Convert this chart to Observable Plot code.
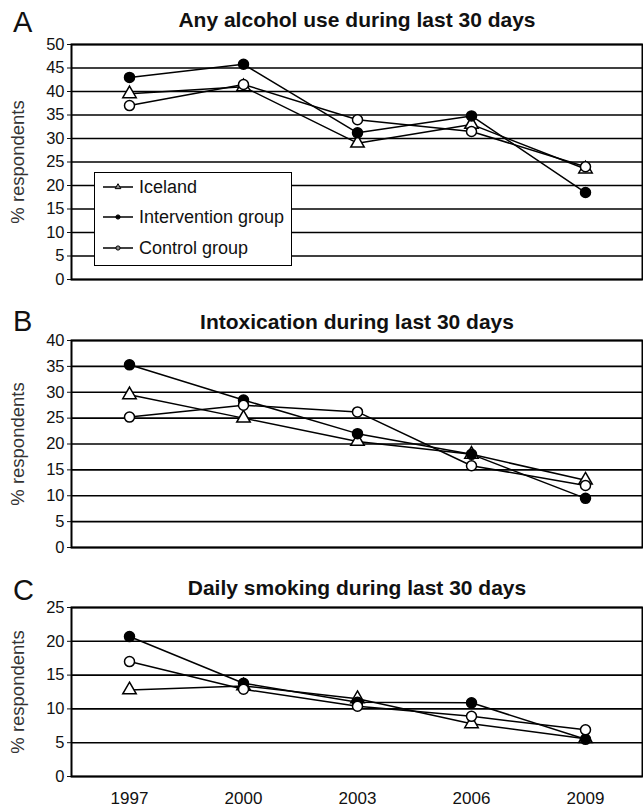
<!DOCTYPE html>
<html><head><meta charset="utf-8">
<script src="https://cdn.jsdelivr.net/npm/d3@7"></script>
<script src="https://cdn.jsdelivr.net/npm/@observablehq/plot@0.6"></script>
<style>
body{margin:0;background:#fff;font-family:"Liberation Sans",Arial,sans-serif;color:#111;}
#chart{position:relative;width:643px;height:810px;overflow:hidden;background:#fff;}
.letter{position:absolute;left:13px;font-size:29px;line-height:29px;}
.title{position:absolute;left:71px;width:572px;text-align:center;font-weight:bold;font-size:21px;line-height:24px;}
.panel{position:absolute;left:0;}
.legend{position:absolute;box-sizing:border-box;left:94px;top:172px;width:198px;height:94px;border:1.5px solid #000;background:#fff;font-size:18px;}
.legend .row{position:absolute;left:7px;height:20px;display:flex;align-items:center;}
.legend .row span{margin-left:5px;}
</style></head><body><div id="chart"></div>
<script>
const years = [1997, 2000, 2003, 2006, 2009];
const seriesNames = ["Iceland", "Intervention group", "Control group"];

// Panel A: Any alcohol use during last 30 days
const alcoholIceland      = [39.5, 41.0, 29.0, 33.0, 23.5];
const alcoholIntervention = [43.0, 45.8, 31.2, 34.8, 18.5];
const alcoholControl      = [37.0, 41.5, 34.0, 31.5, 24.0];
// Panel B: Intoxication during last 30 days
const intoxIceland      = [29.5, 25.0, 20.5, 18.0, 13.0];
const intoxIntervention = [35.3, 28.5, 22.0, 18.0, 9.5];
const intoxControl      = [25.2, 27.5, 26.2, 15.8, 12.0];
// Panel C: Daily smoking during last 30 days
const smokeIceland      = [12.8, 13.4, 11.5, 7.8, 5.6];
const smokeIntervention = [20.7, 13.8, 11.0, 10.9, 5.5];
const smokeControl      = [17.0, 12.9, 10.4, 8.9, 6.9];

const panelLetters = ["A", "B", "C"];
const panelTitles = ["Any alcohol use during last 30 days", "Intoxication during last 30 days", "Daily smoking during last 30 days"];
const yMaxes = [50, 40, 25];
const yTicksA = [0, 5, 10, 15, 20, 25, 30, 35, 40, 45, 50];
const yTicksB = [0, 5, 10, 15, 20, 25, 30, 35, 40];
const yTicksC = [0, 5, 10, 15, 20, 25];
const yLabel = "% respondents";

// styles (not data)
const markerSymbols = ["triangle", "circle", "circle"];
const markerFills = ["white", "black", "white"];
const layout = [
  {svgTop: 30, height: 260, mt: 14, mb: 11, letterTop: 8, titleTop: 8, xAxis: false},
  {svgTop: 330, height: 235, mt: 10, mb: 18, letterTop: 307, titleTop: 310, xAxis: false},
  {svgTop: 597, height: 213, mt: 10, mb: 34, letterTop: 576, titleTop: 576, xAxis: true}
];

const panelsData = [
  [alcoholIceland, alcoholIntervention, alcoholControl],
  [intoxIceland, intoxIntervention, intoxControl],
  [smokeIceland, smokeIntervention, smokeControl]
];
const panelTicks = [yTicksA, yTicksB, yTicksC];

const chart = document.getElementById("chart");

panelsData.forEach((arrs, p) => {
  const L = layout[p];
  const rows = [];
  arrs.forEach((vals, s) => vals.forEach((v, i) => rows.push({year: years[i], value: v, series: seriesNames[s], s})));
  const dotMarks = seriesNames.map((name, s) =>
    Plot.dot(rows.filter(d => d.s === s), {x: "year", y: "value", symbol: () => markerSymbols[s], fill: markerFills[s], stroke: "#000", strokeWidth: 1.5, r: 5})
  );
  const svg = Plot.plot({
    width: 643, height: L.height,
    marginLeft: 71, marginRight: 1, marginTop: L.mt, marginBottom: L.mb,
    style: {fontFamily: "Liberation Sans, Arial, sans-serif", fontSize: "16px", color: "#111", background: "transparent", overflow: "visible"},
    x: {type: "point", domain: years, padding: 0.5, label: null, axis: null},
    y: {domain: [0, yMaxes[p]], axis: null},
    symbol: {type: "identity"},
    marks: [
      Plot.gridY(panelTicks[p], {stroke: "#000", strokeOpacity: 1, strokeWidth: 1.6}),
      Plot.axisY({ticks: panelTicks[p], tickSize: 4, tickPadding: 3, fontSize: 16.5, label: null, fill: "#111"}),
      Plot.text([yLabel], {text: d => d, frameAnchor: "left", rotate: -90, dx: -53, fontSize: 18.5, fill: "#333", textAnchor: "middle", lineAnchor: "middle"}),
      L.xAxis ? Plot.axisX({tickSize: 0, tickPadding: 15, fontSize: 17, label: null, tickFormat: d => String(d)}) : null,
      Plot.frame({stroke: "#000", strokeWidth: 2}),
      Plot.line(rows, {x: "year", y: "value", z: "series", stroke: "#000", strokeWidth: 1.5}),
      ...dotMarks
    ]
  });
  svg.classList.add("panel");
  svg.style.top = L.svgTop + "px";
  chart.appendChild(svg);

  const letter = document.createElement("div");
  letter.className = "letter";
  letter.style.top = L.letterTop + "px";
  letter.textContent = panelLetters[p];
  chart.appendChild(letter);

  const title = document.createElement("div");
  title.className = "title";
  title.style.top = L.titleTop + "px";
  title.textContent = panelTitles[p];
  chart.appendChild(title);
});

// Legend (panel A)
const legend = document.createElement("div");
legend.className = "legend";
const rowTops = [4, 34, 65];
seriesNames.forEach((name, s) => {
  const row = document.createElement("div");
  row.className = "row";
  row.style.top = rowTops[s] + "px";
  const sw = d3.create("svg").attr("width", 32).attr("height", 20);
  sw.append("line").attr("x1", 1).attr("x2", 31).attr("y1", 10).attr("y2", 10).attr("stroke", "#000").attr("stroke-width", 1.5);
  const sym = d3.symbol().type(markerSymbols[s] === "triangle" ? d3.symbolTriangle : d3.symbolCircle).size(14);
  sw.append("path").attr("d", sym()).attr("transform", "translate(16,10)").attr("fill", markerFills[s] === "white" ? "#888" : "#000").attr("stroke", "#000").attr("stroke-width", 1);
  row.appendChild(sw.node());
  const t = document.createElement("span");
  t.textContent = name;
  row.appendChild(t);
  legend.appendChild(row);
});
chart.appendChild(legend);
</script></body></html>
